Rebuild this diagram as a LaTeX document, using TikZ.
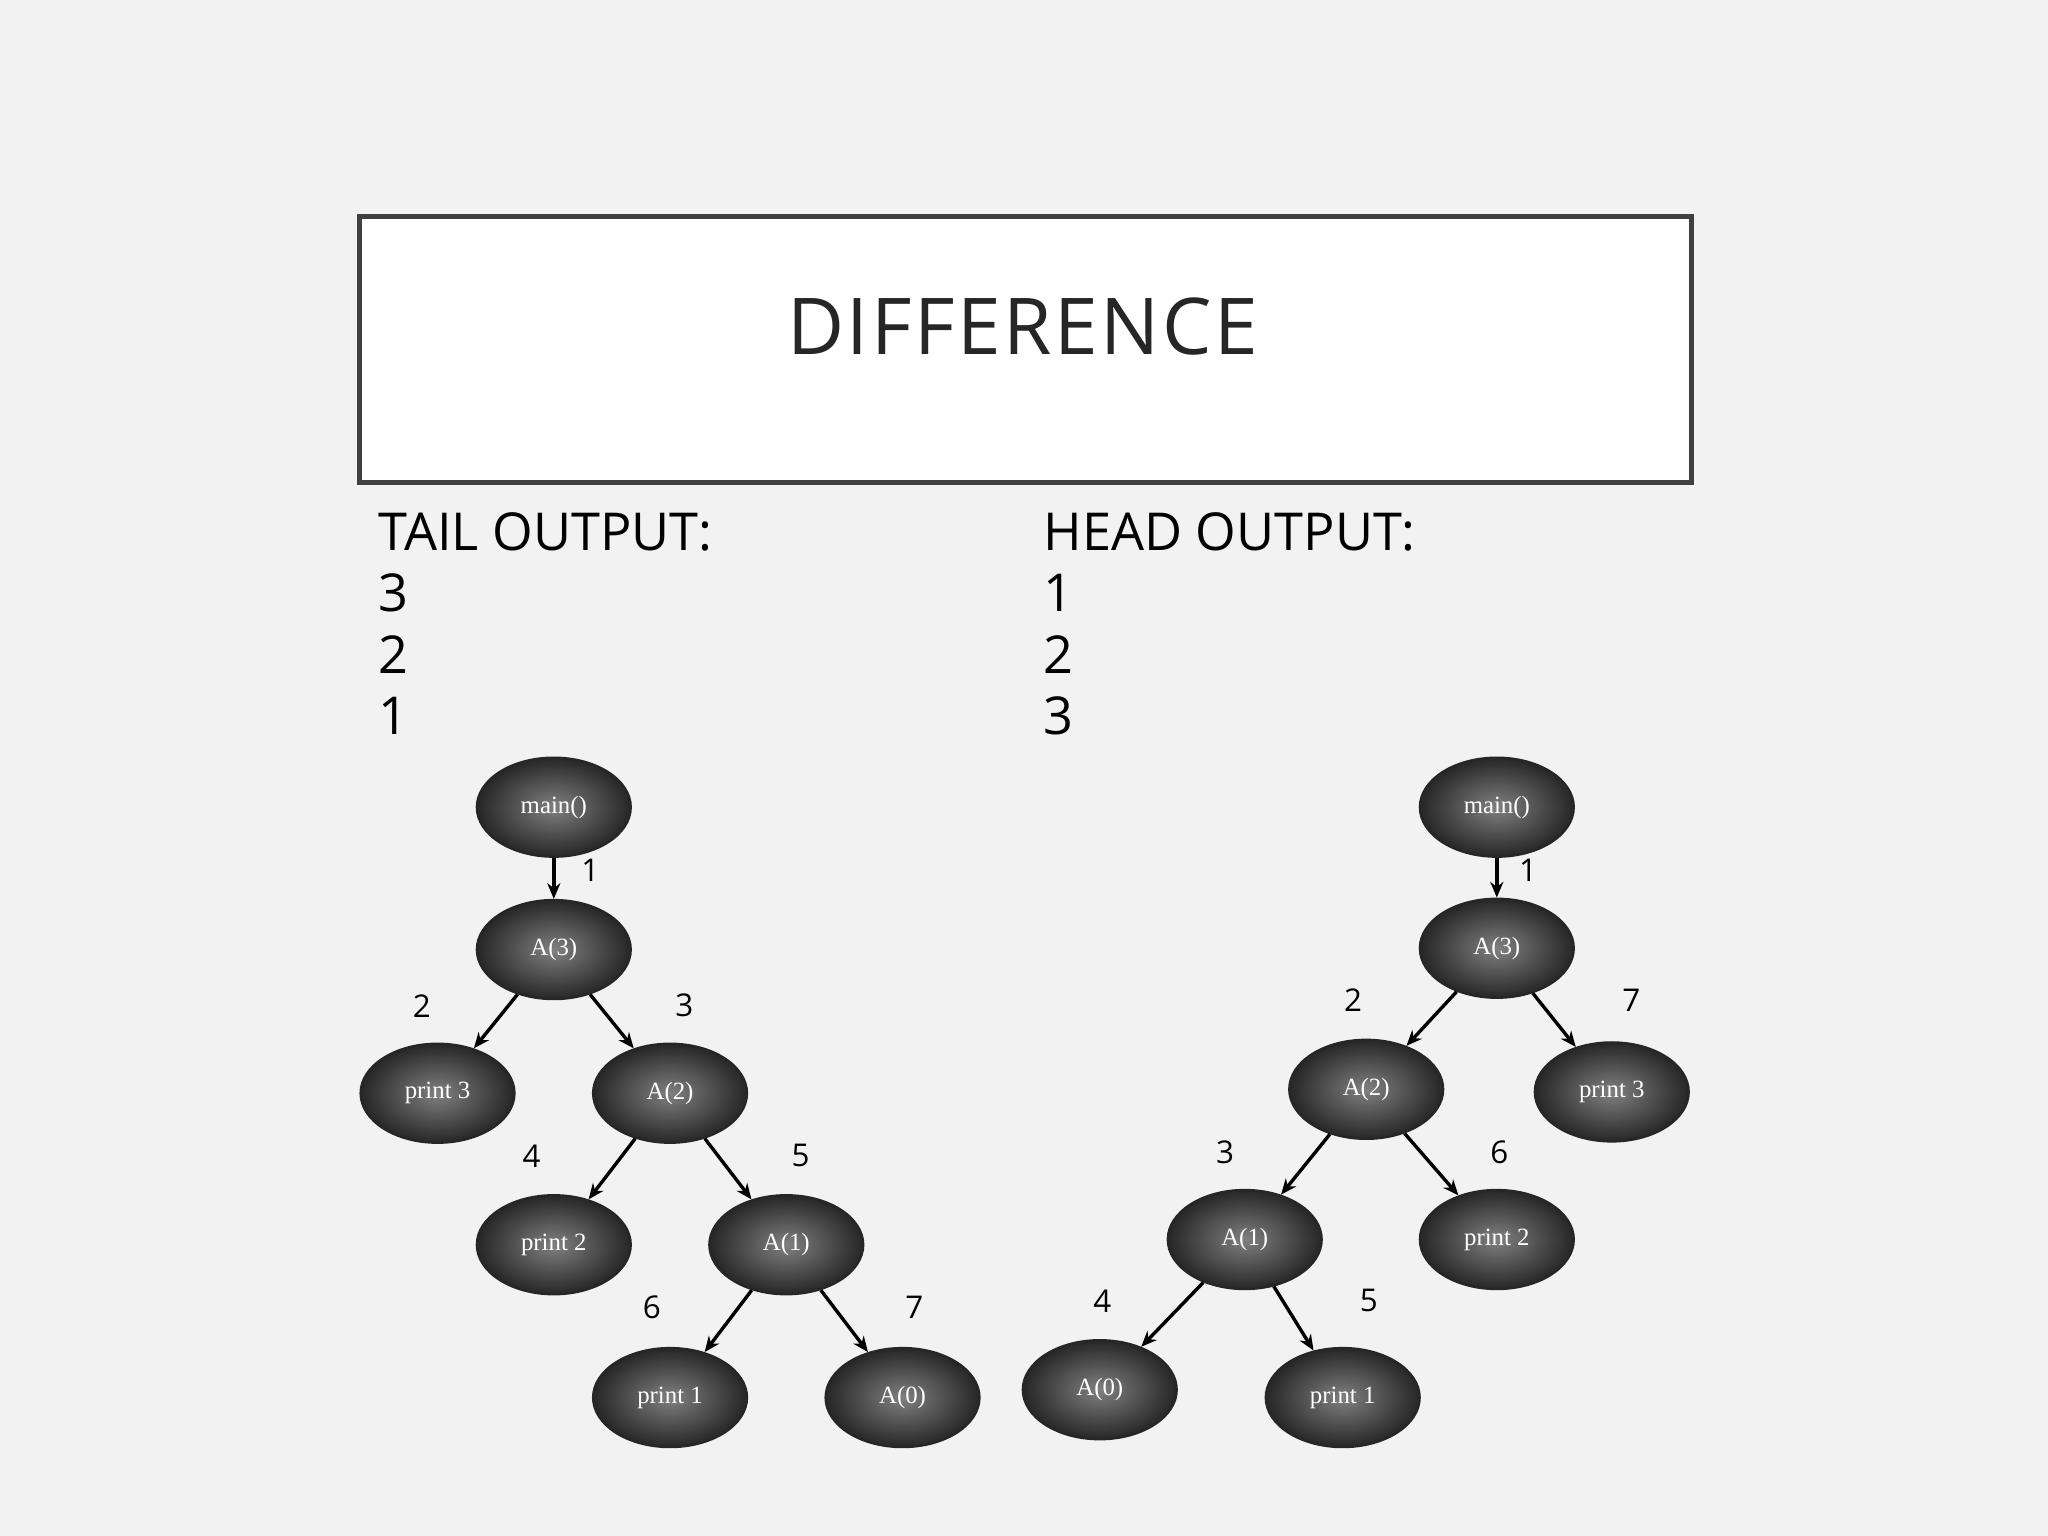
\documentclass[tikz,border=0pt]{standalone}
\usepackage{fontspec}
\setmainfont{Open Sans}
\newfontfamily\nodefont{Liberation Serif}
\usetikzlibrary{shapes.geometric,arrows.meta}
\begin{document}
\begin{tikzpicture}[x=0.5pt,y=-0.5pt,
 ball/.style={ellipse,minimum width=59pt,minimum height=38pt,inner sep=0pt,draw=black!85,line width=0.8pt,
   inner color=black!50,outer color=black!85,text=white,font=\nodefont\fontsize{9.5}{10}\selectfont},
 edge/.style={-{Stealth[length=6pt,width=5pt]},line width=1.3pt},
 lab/.style={font=\fontsize{12}{12}\selectfont},
 outtext/.style={anchor=west,font=\fontsize{20}{20}\selectfont}]
\fill[black!5] (0,0) rectangle (1568,1176);
\useasboundingbox (0,0) rectangle (1568,1176);
\node[draw=black!75,fill=white,line width=2pt,minimum width=510pt,minimum height=102pt] (box) at (785,267.5) {};
\node[font=\fontsize{30}{30}\selectfont,text=black!85] (title) at (783,250) {D\kern1pt I\kern1pt F\kern1pt F\kern1pt E\kern1pt R\kern1pt E\kern1pt N\kern1pt C\kern1pt E};
\node[outtext] (t0) at (283,407) {TAIL OUTPUT:};
\node[outtext] (t1) at (283,454) {3};
\node[outtext] (t2) at (283,501) {2};
\node[outtext] (t3) at (283,548) {1};
\node[outtext] (h0) at (792,407) {HEAD OUTPUT:};
\node[outtext] (h1) at (792,454) {1};
\node[outtext] (h2) at (792,501) {2};
\node[outtext] (h3) at (792,548) {3};
% left tree
\node[ball] (lm) at (424,618) {main()};
\node[ball] (l3) at (424,727) {A(3)};
\node[ball] (lp3) at (335,837) {print 3};
\node[ball] (l2) at (513,837) {A(2)};
\node[ball] (lp2) at (424,953) {print 2};
\node[ball] (l1) at (602,953) {A(1)};
\node[ball] (lp1) at (513,1070) {print 1};
\node[ball] (l0) at (691,1070) {A(0)};
\draw[edge] (lm) -- (l3);
\draw[edge] (l3) -- (lp3);
\draw[edge] (l3) -- (l2);
\draw[edge] (l2) -- (lp2);
\draw[edge] (l2) -- (l1);
\draw[edge] (l1) -- (lp1);
\draw[edge] (l1) -- (l0);
\node[lab] (la1) at (452,666) {1};
\node[lab] (la2) at (323,770) {2};
\node[lab] (la3) at (524,770) {3};
\node[lab] (la4) at (407,885) {4};
\node[lab] (la5) at (613,885) {5};
\node[lab] (la6) at (499,1001) {6};
\node[lab] (la7) at (700,1001) {7};
% right tree
\node[ball] (rm) at (1146,618) {main()};
\node[ball] (r3) at (1146,726) {A(3)};
\node[ball] (r2) at (1046,834) {A(2)};
\node[ball] (rp3) at (1234,836) {print 3};
\node[ball] (r1) at (953,949) {A(1)};
\node[ball] (rp2) at (1146,949) {print 2};
\node[ball] (r0) at (842,1064) {A(0)};
\node[ball] (rp1) at (1028,1070) {print 1};
\draw[edge] (rm) -- (r3);
\draw[edge] (r3) -- (r2);
\draw[edge] (r3) -- (rp3);
\draw[edge] (r2) -- (r1);
\draw[edge] (r2) -- (rp2);
\draw[edge] (r1) -- (r0);
\draw[edge] (r1) -- (rp1);
\node[lab] (ra1) at (1170,666) {1};
\node[lab] (ra2) at (1036,766) {2};
\node[lab] (ra7) at (1249,766) {7};
\node[lab] (ra3) at (938,882) {3};
\node[lab] (ra6) at (1148,882) {6};
\node[lab] (ra4) at (844,996) {4};
\node[lab] (ra5) at (1048,996) {5};
\end{tikzpicture}
\end{document}
